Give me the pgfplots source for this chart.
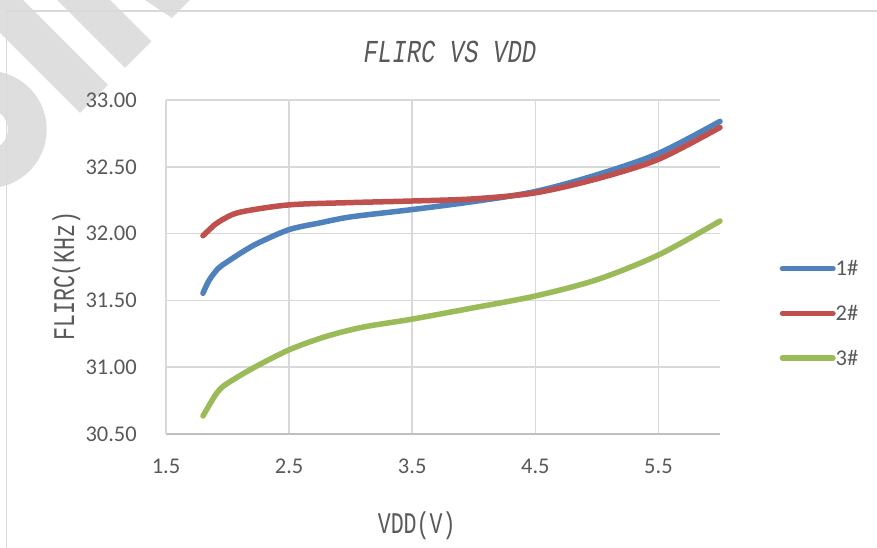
\documentclass[border=0pt]{standalone}
\usepackage{fontspec}
\setmainfont{Carlito}
\newfontfamily\titlefont[FakeStretch=0.75]{Liberation Mono}
\newfontfamily\labelfont[FakeStretch=0.72]{Liberation Mono}
\usepackage{pgfplots}
\pgfplotsset{compat=1.18}
\definecolor{c1}{HTML}{4F81BD}
\definecolor{c2}{HTML}{C0504D}
\definecolor{c3}{HTML}{9BBB59}
\definecolor{txt}{HTML}{595959}
\definecolor{grd}{HTML}{D9D9D9}
\definecolor{axl}{HTML}{BFBFBF}
\definecolor{wm}{HTML}{DEDEDE}
\begin{document}
\begin{tikzpicture}
\useasboundingbox (0pt,0pt) rectangle (877pt,548pt);
% watermark
\fill[wm] (23pt,548pt) -- (108pt,463pt) -- (80pt,435pt) -- (0pt,515pt) -- (0pt,548pt) -- cycle;
\fill[wm] (57pt,548pt) -- (110pt,548pt) -- (151.5pt,506.5pt) -- (125pt,480pt) -- cycle;
\fill[wm] (145pt,548pt) -- (190pt,548pt) -- (172pt,530pt) -- cycle;
\fill[wm,even odd rule] (-12pt,418.5pt) circle (58.7pt) (-12pt,418.5pt) circle (20pt);
% chart frame
\draw[grd, line width=1.5pt] (6.7pt,0pt) -- (6.7pt,537pt) -- (877pt,537pt);
\begin{axis}[
  at={(166pt,114pt)}, anchor=south west,
  scale only axis, width=554pt, height=334pt,
  xmin=1.5, xmax=6.0, ymin=30.5, ymax=33,
  xtick={1.5,2.5,3.5,4.5,5.5}, ytick={30.5,31,31.5,32,32.5,33},
  grid=major, major grid style={grd, line width=1.5pt},
  major tick length=0pt,
  axis x line*=bottom, axis y line*=left,
  x axis line style={-, draw=axl, line width=2pt},
  y axis line style={-, draw=grd, line width=1.5pt},
  clip=false,
  every axis title shift=0pt,
  /pgf/number format/assume math mode=true,
  ticklabel style={font=\fontsize{22.5}{27}\selectfont, text=txt},
  yticklabel style={anchor=east, inner sep=0pt, xshift=-29pt,
    /pgf/number format/fixed, /pgf/number format/fixed zerofill, /pgf/number format/precision=2},
  xticklabel style={anchor=north, inner sep=0pt, yshift=-25pt,
    /pgf/number format/fixed, /pgf/number format/fixed zerofill, /pgf/number format/precision=1},
  title={FLIRC VS VDD},
  title style={at={(axis description cs:0.5126,1.1108)}, anchor=base, text=txt,
    font=\titlefont\itshape\fontsize{32}{36}\selectfont},
  xlabel={VDD(V)},
  xlabel style={at={(axis description cs:0.4525,-0.2994)}, anchor=base, text=txt,
    font=\labelfont\fontsize{30}{34}\selectfont},
  ylabel={FLIRC(KHz)},
  ylabel style={at={(axis description cs:-0.180,0.473)}, anchor=center, text=txt,
    font=\labelfont\fontsize{30}{34}\selectfont},
  legend cell align=left,
  legend style={at={(axis description cs:1.1078,0.5165)}, anchor=north west,
    draw=none, fill=none, inner sep=0pt, outer sep=0pt,
    font=\fontsize{22.5}{27}\selectfont, text=txt, row sep=30.2pt,
    nodes={inner sep=0pt, text height=14.5pt, text depth=0pt},
    /tikz/every even column/.append style={column sep=8pt}},
  legend image code/.code={\draw[#1, line width=5.5pt, line cap=round] (2.75pt,0pt) -- (53.25pt,0pt);},
]
\addplot[c1, line width=5.5pt, smooth, line cap=round, line join=round] coordinates {
(1.8,31.553) (1.85,31.65) (1.925,31.74) (2.0,31.79) (2.125,31.865) (2.25,31.93)
(2.5,32.03) (2.75,32.08) (3.0,32.125) (3.5,32.18) (4.0,32.24) (4.5,32.315)
(5.0,32.44) (5.5,32.60) (6.0,32.84)};
\addlegendentry{1\#}
\addplot[c2, line width=5.5pt, smooth, line cap=round, line join=round] coordinates {
(1.8,31.984) (1.9,32.07) (1.95,32.10) (2.1,32.16) (2.5,32.215) (3.0,32.232)
(3.5,32.244) (4.0,32.26) (4.5,32.305) (5.0,32.41) (5.5,32.556) (6.0,32.795)};
\addlegendentry{2\#}
\addplot[c3, line width=5.5pt, smooth, line cap=round, line join=round] coordinates {
(1.8,30.635) (1.9,30.79) (1.95,30.845) (2.0,30.88) (2.2,30.99) (2.5,31.13)
(2.8,31.23) (3.1,31.30) (3.5,31.36) (4.0,31.445) (4.5,31.533) (5.0,31.655)
(5.5,31.84) (6.0,32.094)};
\addlegendentry{3\#}
\end{axis}
\end{tikzpicture}
\end{document}
